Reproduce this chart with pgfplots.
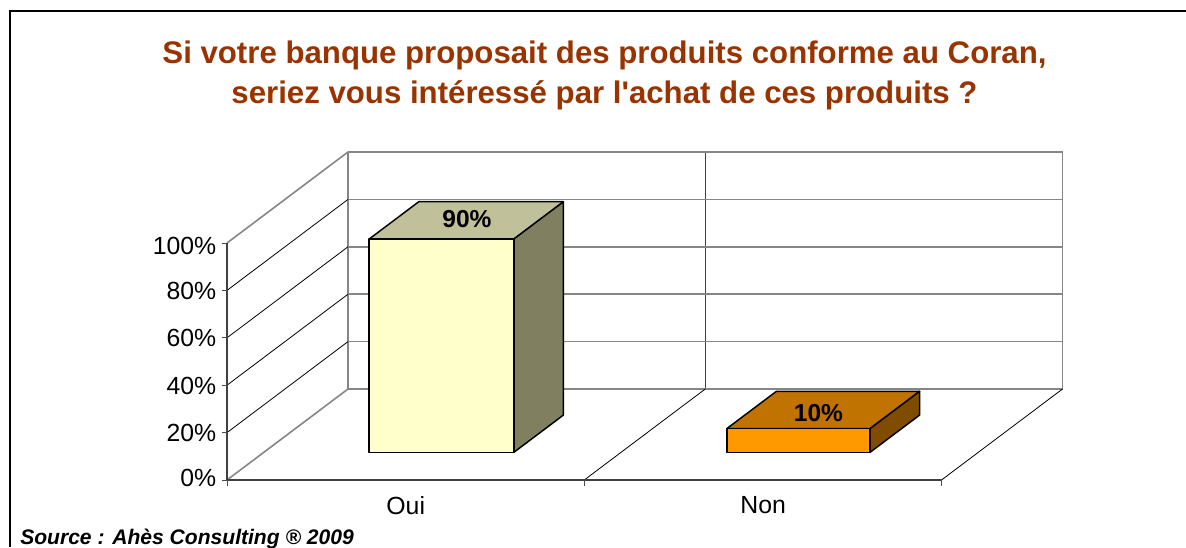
\documentclass[border=0pt]{standalone}
\usepackage{fontspec}
\setmainfont{Liberation Sans}[Ligatures=TeXOff]
\usepackage{pgfplots}
\pgfplotsset{compat=1.18}
\definecolor{titlec}{HTML}{993300}
\definecolor{gridg}{HTML}{868686}
\definecolor{ouiF}{HTML}{FFFFCC}
\definecolor{ouiT}{HTML}{C0C09A}
\definecolor{ouiS}{HTML}{808060}
\definecolor{nonF}{HTML}{FF9900}
\definecolor{nonT}{HTML}{C07300}
\definecolor{nonS}{HTML}{804D00}
\begin{document}
\begin{tikzpicture}[x=0.75pt,y=0.75pt]
\path[use as bounding box] (0,0) rectangle (1186,547);
\draw[black,line width=1.5pt] (9.5,0) -- (9.5,535.5) -- (1186,535.5);
\node[text=titlec,font=\bfseries\fontsize{23.4}{30}\selectfont,align=center] at (604.5,472) {Si votre banque proposait des produits conforme au Coran,\\seriez vous intéressé par l'achat de ces produits ?};
\node[anchor=base west,inner sep=0pt,font=\bfseries\itshape\fontsize{15.8}{17}\selectfont] at (20,3) {Source : Ahès Consulting ® 2009};
\begin{axis}[
  at={(170.25pt,50.25pt)},anchor=origin,
  x={(267.94pt,0pt)},y={(90.75pt,68.25pt)},z={(0pt,1.7775pt)},
  xmin=0,xmax=2,ymin=0,ymax=1,zmin=0,zmax=100,
  clip=false,
  axis line style={draw=none},
  ytick=\empty,
  xtick={0.5,1.5},xticklabels={Oui,Non},
  ztick={0,20,40,60,80,100},
  zticklabels={0\%,20\%,40\%,60\%,80\%,100\%},
  xtick pos=left,ztick pos=left,
  major tick length=0pt,
  tick label style={font=\fontsize{18.6}{20}\selectfont},
  xticklabel style={xshift=5.25pt,yshift=-8.75pt},
  zticklabel style={xshift=-4.5pt,yshift=7pt},
]
% walls
\addplot3[gridg,line width=1.2pt] coordinates {(0,1,0)(0,1,100)};
\addplot3[gridg,line width=1.2pt] coordinates {(2,1,0)(2,1,100)};
\addplot3[black!75,line width=0.7pt] coordinates {(1,1,0)(1,1,100)};
\addplot3[gridg,line width=1.2pt] coordinates {(0,1,0)(2,1,0)};
\addplot3[gridg,line width=1.1pt] coordinates {(0,1,20)(2,1,20)};
\addplot3[gridg,line width=1.1pt] coordinates {(0,1,40)(2,1,40)};
\addplot3[gridg,line width=1.1pt] coordinates {(0,1,60)(2,1,60)};
\addplot3[gridg,line width=1.1pt] coordinates {(0,1,80)(2,1,80)};
\addplot3[gridg,line width=1.2pt] coordinates {(0,1,100)(2,1,100)};
\addplot3[gridg,line width=1.2pt] coordinates {(0,0,100)(0,1,100)};
\addplot3[gridg,line width=1.2pt] coordinates {(0,0,0)(0,1,0)};
\addplot3[black,line width=0.6pt] coordinates {(0,0,20)(0,1,20)};
\addplot3[black,line width=0.6pt] coordinates {(0,0,40)(0,1,40)};
\addplot3[black,line width=0.6pt] coordinates {(0,0,60)(0,1,60)};
\addplot3[black,line width=0.6pt] coordinates {(0,0,80)(0,1,80)};
\addplot3[black,line width=0.6pt] coordinates {(1,0,0)(1,1,0)};
\addplot3[black,line width=0.6pt] coordinates {(2,0,0)(2,1,0)};
\addplot3[black!75,line width=0.8pt] coordinates {(0,0,0)(0,0,100)};
\addplot3[black!75,line width=0.8pt] coordinates {(0,0,0)(2,0,0)};
% tick marks
\addplot3[black!70,line width=0.7pt] coordinates {(-0.014,0,0)(0,0,0)};
\addplot3[black!70,line width=0.7pt] coordinates {(-0.014,0,20)(0,0,20)};
\addplot3[black!70,line width=0.7pt] coordinates {(-0.014,0,40)(0,0,40)};
\addplot3[black!70,line width=0.7pt] coordinates {(-0.014,0,60)(0,0,60)};
\addplot3[black!70,line width=0.7pt] coordinates {(-0.014,0,80)(0,0,80)};
\addplot3[black!70,line width=0.7pt] coordinates {(-0.014,0,100)(0,0,100)};
\addplot3[black!70,line width=0.7pt] coordinates {(0,0,-2.7)(0,0,0)};
\addplot3[black!70,line width=0.7pt] coordinates {(1,0,-2.7)(1,0,0)};
\addplot3[black!70,line width=0.7pt] coordinates {(2,0,-2.7)(2,0,0)};
% Oui = 90
\addplot3[fill=ouiT,draw=black,line width=1.1pt,line join=round] coordinates {(0.295,0.304,90)(0.700,0.304,90)(0.700,0.714,90)(0.295,0.714,90)} --cycle;
\addplot3[fill=ouiS,draw=black,line width=1.1pt,line join=round] coordinates {(0.700,0.304,0)(0.700,0.714,0)(0.700,0.714,90)(0.700,0.304,90)} --cycle;
\addplot3[fill=ouiF,draw=black,line width=1.1pt,line join=round] coordinates {(0.295,0.304,0)(0.700,0.304,0)(0.700,0.304,90)(0.295,0.304,90)} --cycle;
% Non = 10
\addplot3[fill=nonT,draw=black,line width=1.1pt,line join=round] coordinates {(1.296,0.304,10)(1.697,0.304,10)(1.697,0.714,10)(1.296,0.714,10)} --cycle;
\addplot3[fill=nonS,draw=black,line width=1.1pt,line join=round] coordinates {(1.697,0.304,0)(1.697,0.714,0)(1.697,0.714,10)(1.697,0.304,10)} --cycle;
\addplot3[fill=nonF,draw=black,line width=1.1pt,line join=round] coordinates {(1.296,0.304,0)(1.697,0.304,0)(1.697,0.304,10)(1.296,0.304,10)} --cycle;
\node[font=\bfseries\fontsize{18.4}{20}\selectfont] at (axis cs:0.4955,0.52,90) {90\%};
\node[font=\bfseries\fontsize{18.4}{20}\selectfont] at (axis cs:1.493,0.48,10) {10\%};
\end{axis}
\end{tikzpicture}
\end{document}
